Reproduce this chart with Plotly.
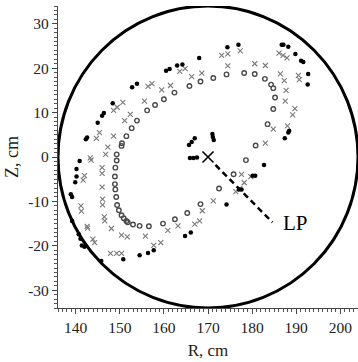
import plotly.graph_objects as go

# Outer boundary of the vessel cross-section (cm)
vessel_R0 = 170.0
vessel_Z0 = 0.0
vessel_radius = 34.0

# Outer contour points (filled dots)
outer_R = [152.8, 153.9, 148.4, 146.4, 146.0, 145.0, 142.6, 142.3, 174.4, 168.0,
           163.0, 164.2, 161.3, 160.5, 176.9, 186.7, 187.1, 188.2, 189.8, 191.1,
           191.6, 192.7, 192.6, 188.4, 188.2, 187.4, 140.9, 140.2, 140.2, 139.9,
           138.9, 139.2, 139.2, 140.7, 141.1, 141.4, 142.0, 145.8, 150.8, 154.5,
           156.4, 157.7, 164.8, 166.1, 174.2, 182.7, 180.1, 180.7, 177.6, 177.0,
           165.7, 166.3, 167.0, 171.0, 171.1, 171.3, 165.9, 166.7, 167.5]
outer_Z = [15.7, 16.5, 12.1, 9.9, 9.3, 7.7, 4.4, 4.0, 24.7, 22.3,
           20.6, 20.8, 19.8, 19.4, 25.3, 25.3, 25.3, 24.8, 23.2, 21.7,
           21.4, 18.7, 16.3, 5.9, 5.5, 4.2, -0.9, -2.7, -4.4, -5.7,
           -8.4, -9.0, -14.4, -17.4, -18.4, -19.9, -20.2, -23.4, -23.0, -22.1,
           -21.6, -21.0, -17.8, -17.0, -10.7, -1.8, -4.2, -4.2, -7.3, -7.3,
           2.7, 3.4, 4.2, 5.2, 4.5, 3.8, -0.2, -0.2, -0.1]

# Middle contour points (crosses)
mid_R = [150.7, 149.4, 148.6, 155.6, 152.4, 151.1, 145.4, 144.7, 148.6, 147.3,
         156.4, 173.1, 174.5, 174.5, 163.6, 164.8, 166.3, 168.6, 157.3, 161.5,
         159.5, 177.3, 186.1, 187.0, 187.9, 180.6, 183.0, 186.4, 187.3, 190.5,
         190.7, 187.7, 187.5, 189.7, 189.2, 188.0, 184.8, 183.0, 146.8, 143.3,
         143.5, 142.0, 141.7, 146.0, 146.0, 146.0, 146.1, 146.1, 141.2, 141.3,
         146.5, 146.6, 148.1, 142.6, 142.7, 143.9, 144.3, 150.4, 151.7, 155.8,
         147.9, 149.3, 150.4, 171.2, 168.7, 168.1, 167.0, 163.2, 160.9, 159.3,
         157.7, 177.6, 179.7, 178.2, 176.3, 177.2]
mid_Z = [12.3, 11.2, 10.5, 12.6, 9.6, 8.2, 5.5, 4.2, 4.7, 2.2,
         15.9, 22.9, 23.2, 20.5, 19.3, 19.9, 18.1, 18.9, 16.5, 16.1,
         15.1, 23.9, 23.4, 22.9, 22.3, 21.0, 20.6, 18.7, 17.2, 18.4,
         17.4, 15.0, 12.6, 10.9, 9.5, 7.0, 6.3, 3.1, 0.6, -0.2,
         -0.7, -4.2, -5.2, -2.4, -3.7, -6.8, -9.5, -10.8, -11.0, -12.2,
         -13.5, -14.4, -16.1, -15.6, -16.0, -18.5, -19.3, -17.6, -18.0, -17.8,
         -21.7, -21.7, -21.7, -9.9, -12.1, -14.4, -15.1, -15.5, -16.5, -19.3,
         -19.9, -3.9, -4.4, -5.8, -7.8, -7.1]

# Inner contour points (open circles)
inner_R = [156.2, 153.9, 152.7, 151.5, 150.5, 150.4, 174.2, 171.2, 168.3, 165.8,
           162.4, 160.0, 158.0, 178.2, 180.6, 182.9, 184.3, 184.8, 185.2, 184.8,
           183.5, 180.8, 178.6, 175.8, 172.5, 168.3, 165.3, 162.5, 159.8, 156.6,
           154.5, 153.0, 151.8, 151.5, 150.9, 150.4, 149.8, 149.4, 149.2, 149.0,
           148.9, 148.9, 149.0, 149.3, 149.3]
inner_Z = [10.5, 8.2, 6.5, 4.7, 3.1, 2.5, 18.6, 17.8, 17.0, 16.0,
           14.5, 13.0, 11.7, 18.9, 18.7, 17.6, 16.3, 15.5, 13.4, 10.8,
           7.4, 2.6, -0.7, -3.9, -7.1, -10.6, -12.6, -14.0, -15.0, -15.6,
           -15.5, -15.2, -14.7, -14.4, -13.8, -13.1, -12.0, -10.8, -9.0, -7.3,
           -6.1, -4.4, -2.4, -0.8, 0.6]

# Plasma centre marker and the LP pointer line
centre_R = [170.0]
centre_Z = [0.0]
lp_line_R = [171.7, 184.6]
lp_line_Z = [-1.8, -14.7]
lp_label_R = 189.8
lp_label_Z = -14.9

x_ticks = [140, 150, 160, 170, 180, 190, 200]
y_ticks = [-30, -20, -10, 0, 10, 20, 30]

serif = "Liberation Serif"

fig = go.Figure()

fig.add_shape(type="circle", xref="x", yref="y",
              x0=vessel_R0 - vessel_radius, x1=vessel_R0 + vessel_radius,
              y0=vessel_Z0 - vessel_radius, y1=vessel_Z0 + vessel_radius,
              line=dict(color="black", width=3), layer="below")

fig.add_trace(go.Scatter(x=inner_R, y=inner_Z, mode="markers",
                         marker=dict(symbol="circle-open", size=4.5,
                                     color="#4a4a4a", line=dict(width=1.4))))
fig.add_trace(go.Scatter(x=mid_R, y=mid_Z, mode="markers",
                         marker=dict(symbol="x-thin", size=5,
                                     line=dict(width=1.1, color="#7a7a7a"))))
fig.add_trace(go.Scatter(x=outer_R, y=outer_Z, mode="markers",
                         marker=dict(symbol="circle", size=4.5, color="black")))
fig.add_trace(go.Scatter(x=lp_line_R, y=lp_line_Z, mode="lines",
                         line=dict(color="black", width=2.5, dash="6px,4px")))
fig.add_trace(go.Scatter(x=centre_R, y=centre_Z, mode="markers",
                         marker=dict(symbol="x-thin", size=11,
                                     line=dict(width=1.6, color="black"))))

fig.add_annotation(x=lp_label_R, y=lp_label_Z, text="LP", showarrow=False,
                   font=dict(family=serif, size=21, color="black"))

axis_common = dict(showgrid=False, zeroline=False, showline=True,
                   linecolor="#444444", linewidth=1.2, ticks="outside",
                   ticklen=5, tickwidth=1, tickcolor="#444444",
                   mirror=False,
                   tickfont=dict(family=serif, size=15.5, color="#222222"),
                   minor=dict(ticks="outside", ticklen=3, dtick=1,
                              tickcolor="#555555", tickwidth=1))

fig.update_xaxes(range=[136, 204], tickvals=x_ticks,
                 title=dict(text="R, cm", font=dict(family=serif, size=17, color="#222222"),
                            standoff=9),
                 **axis_common)
fig.update_yaxes(range=[-34, 34], tickvals=y_ticks,
                 ticktext=[str(v) if v >= 0 else "-" + str(-v) for v in y_ticks],
                 title=dict(text="Z, cm", font=dict(family=serif, size=18, color="#222222"),
                            standoff=4),
                 **axis_common)

fig.update_layout(width=358, height=362, showlegend=False,
                  margin=dict(l=58, r=0, t=6, b=54),
                  plot_bgcolor="white", paper_bgcolor="white")

fig.write_html("out.html")
